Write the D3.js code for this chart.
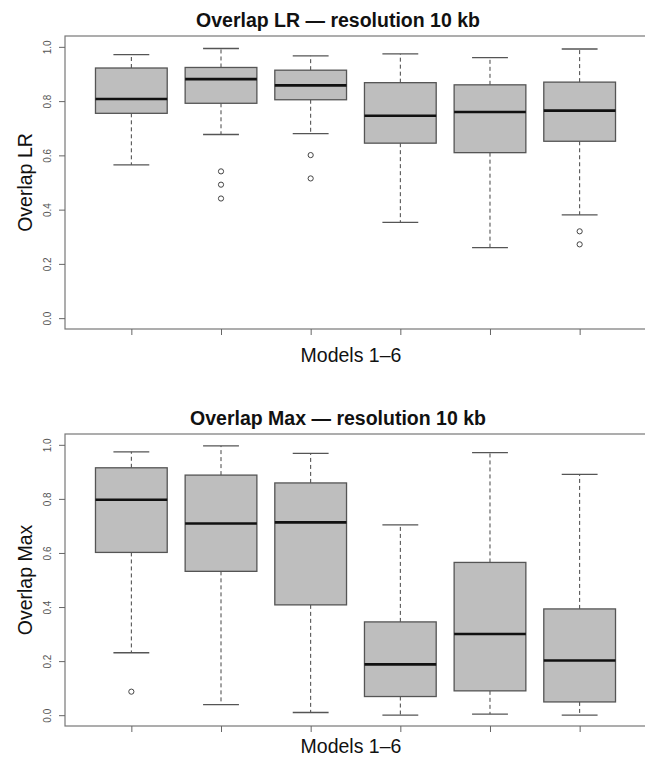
<!DOCTYPE html>
<html>
<head>
<meta charset="utf-8">
<script src="https://cdn.jsdelivr.net/npm/d3@7"></script>
<style>
  body { margin: 0; background: #fff; }
  text { font-family: "Liberation Sans", Arial, sans-serif; }
</style>
</head>
<body>
<div id="chart"></div>
<script>
// models on the x axis
var models = [1, 2, 3, 4, 5, 6];
var yTicks = [0, 0.2, 0.4, 0.6, 0.8, 1.0];

// Overlap LR: whisker low, Q1, median, Q3, whisker high
var lrLow    = [0.565, 0.677, 0.680, 0.353, 0.260, 0.381];
var lrQ1     = [0.755, 0.792, 0.805, 0.645, 0.610, 0.652];
var lrMedian = [0.808, 0.881, 0.858, 0.746, 0.760, 0.765];
var lrQ3     = [0.922, 0.924, 0.914, 0.868, 0.860, 0.870];
var lrHigh   = [0.971, 0.994, 0.967, 0.974, 0.960, 0.992];
var lrOut    = [[], [0.541, 0.492, 0.441], [0.601, 0.515], [], [], [0.320, 0.272]];

// Overlap Max
var maxLow    = [0.231, 0.039, 0.010, 0.000, 0.004, 0.000];
var maxQ1     = [0.602, 0.532, 0.408, 0.069, 0.090, 0.049];
var maxMedian = [0.797, 0.709, 0.713, 0.188, 0.300, 0.202];
var maxQ3     = [0.915, 0.888, 0.859, 0.345, 0.565, 0.393];
var maxHigh   = [0.974, 0.996, 0.968, 0.704, 0.971, 0.891];
var maxOut    = [[0.087], [], [], [], [], []];

var W = 645, H = 759;
var svg = d3.select("#chart").append("svg")
    .attr("width", W)
    .attr("height", H);

function panel(top, bottom, labelGap, title, ylab, low, q1, med, q3, high, outs) {
  // plot region (R style: 4% extension around the limits)
  var left = 65, right = 646;

  var x = d3.scaleLinear().domain([0.26, 6.74]).range([left, right]);
  var y = d3.scaleLinear().domain([-0.04, 1.04]).range([bottom, top]);

  var g = svg.append("g");

  // boxes
  var boxW = (x(1) - x(0)) * 0.8;
  models.forEach(function(m, i) {
    var cx = x(m);
    // whiskers
    g.append("line")
      .attr("x1", cx).attr("x2", cx)
      .attr("y1", y(q3[i])).attr("y2", y(high[i]))
      .attr("stroke", "#444").attr("stroke-width", 1)
      .attr("stroke-dasharray", "4,3");
    g.append("line")
      .attr("x1", cx).attr("x2", cx)
      .attr("y1", y(q1[i])).attr("y2", y(low[i]))
      .attr("stroke", "#444").attr("stroke-width", 1)
      .attr("stroke-dasharray", "4,3");
    // staples
    [low[i], high[i]].forEach(function(v) {
      g.append("line")
        .attr("x1", cx - boxW / 4).attr("x2", cx + boxW / 4)
        .attr("y1", y(v)).attr("y2", y(v))
        .attr("stroke", "#555").attr("stroke-width", 1.3);
    });
    // box
    g.append("rect")
      .attr("x", cx - boxW / 2)
      .attr("y", y(q3[i]))
      .attr("width", boxW)
      .attr("height", y(q1[i]) - y(q3[i]))
      .attr("fill", "#bebebe")
      .attr("stroke", "#555")
      .attr("stroke-width", 1.3);
    // median
    g.append("line")
      .attr("x1", cx - boxW / 2).attr("x2", cx + boxW / 2)
      .attr("y1", y(med[i])).attr("y2", y(med[i]))
      .attr("stroke", "#111").attr("stroke-width", 2.6);
    // outliers
    outs[i].forEach(function(v) {
      g.append("circle")
        .attr("cx", cx).attr("cy", y(v))
        .attr("r", 2.6)
        .attr("fill", "none")
        .attr("stroke", "#444")
        .attr("stroke-width", 1);
    });
  });

  // frame
  g.append("rect")
    .attr("x", left).attr("y", top)
    .attr("width", right - left).attr("height", bottom - top)
    .attr("fill", "none")
    .attr("stroke", "#777")
    .attr("stroke-width", 1.2);

  // y axis
  var yAxis = g.append("g")
    .attr("transform", "translate(" + left + ",0)")
    .call(d3.axisLeft(y).tickValues(yTicks).tickSize(6).tickFormat(d3.format(".1f")));
  yAxis.select(".domain").remove();
  yAxis.selectAll(".tick line").attr("stroke", "#666");
  yAxis.selectAll(".tick text")
    .attr("transform", "rotate(-90)")
    .attr("x", 0)
    .attr("dy", 0)
    .attr("y", -14)
    .style("text-anchor", "middle")
    .style("font-size", "10px")
    .style("font-family", "Liberation Sans, Arial, sans-serif")
    .attr("fill", "#555");

  // x ticks
  var xAxis = g.append("g")
    .attr("transform", "translate(0," + bottom + ")")
    .call(d3.axisBottom(x).tickValues(models).tickSize(6).tickFormat(""));
  xAxis.select(".domain").remove();
  xAxis.selectAll(".tick line").attr("stroke", "#666");

  // title
  svg.append("text")
    .attr("x", 338)
    .attr("y", top - 9.5)
    .attr("text-anchor", "middle")
    .style("font-weight", "bold")
    .style("font-size", "19.5px")
    .attr("fill", "#111")
    .text(title);

  // x label
  svg.append("text")
    .attr("x", 351)
    .attr("y", bottom + labelGap)
    .attr("text-anchor", "middle")
    .style("font-size", "19.5px")
    .attr("fill", "#111")
    .text("Models 1\u20136");

  // y label
  svg.append("text")
    .attr("transform", "translate(32," + ((top + bottom) / 2) + ") rotate(-90)")
    .attr("text-anchor", "middle")
    .style("font-size", "19.5px")
    .attr("fill", "#111")
    .text(ylab);
}

panel(36, 329, 33, "Overlap LR \u2014 resolution 10 kb", "Overlap LR",
      lrLow, lrQ1, lrMedian, lrQ3, lrHigh, lrOut);
panel(434, 726, 27, "Overlap Max \u2014 resolution 10 kb", "Overlap Max",
      maxLow, maxQ1, maxMedian, maxQ3, maxHigh, maxOut);
</script>
</body>
</html>
